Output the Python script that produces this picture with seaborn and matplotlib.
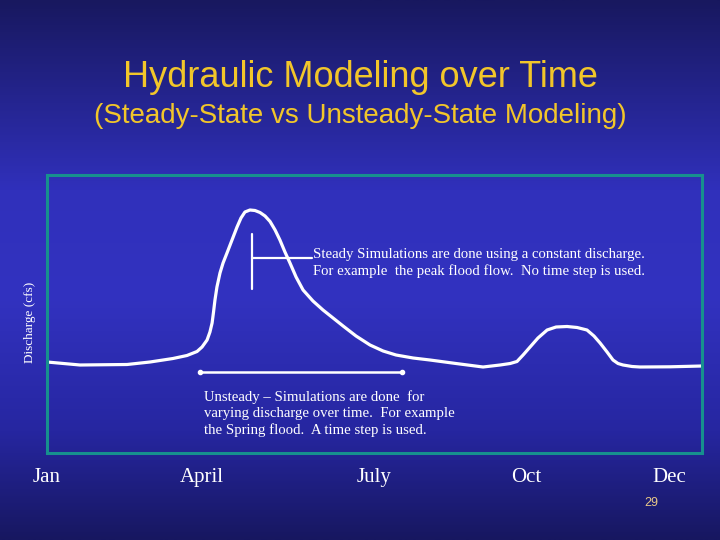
import numpy as np
import pandas as pd
import matplotlib
matplotlib.use("Agg")
import matplotlib.pyplot as plt
import seaborn as sns
from matplotlib.colors import LinearSegmentedColormap

# hydrograph (day of year, discharge in cfs)
day = [0, 18.4, 44.6, 57.4, 70.2, 78.0, 83.6, 86.4, 89.2, 90.8, 92.0, 92.8,
       93.6, 94.7, 96.4, 98.1, 100.3, 103.1, 105.9, 108.1, 110.3, 113.1,
       115.9, 118.7, 121.5, 124.3, 127.1, 129.8, 132.6, 135.4, 138.8, 142.7,
       148.2, 153.8, 159.4, 165.0, 172.2, 180.0, 187.3, 194.5, 204.0, 213.4,
       227.9, 243.0, 252.5, 258.1, 261.9, 265.3, 269.2, 273.6, 278.7, 283.7,
       289.8, 295.4, 300.9, 304.8, 308.2, 312.1, 315.4, 318.2, 321.0, 326.0,
       330.5, 347.2, 365.0]
discharge = [1820, 1760, 1770, 1820, 1890, 1950, 2030, 2120, 2260, 2420, 2600,
             2820, 3060, 3320, 3600, 3800, 4000, 4260, 4520, 4700, 4820, 4860,
             4850, 4810, 4740, 4630, 4460, 4260, 4020, 3800, 3520, 3260, 3040,
             2860, 2700, 2540, 2340, 2160, 2040, 1960, 1900, 1860, 1790, 1720,
             1760, 1790, 1830, 1960, 2120, 2300, 2460, 2520, 2530, 2510, 2460,
             2340, 2200, 2020, 1860, 1790, 1760, 1730, 1720, 1724, 1740]

month_labels = ["Jan", "April", "July", "Oct", "Dec"]
month_days = [0, 86.4, 182.2, 267.0, 346.6]

# steady marker (day, discharge range) and unsteady span
steady_day = 114.4
steady_range = [3290, 4390]
steady_tick = [114.4, 147.5]
steady_level = 3906
unsteady_span = [85.3, 197.8]
unsteady_level = 1626

title = "Hydraulic Modeling over Time"
subtitle = "(Steady-State vs Unsteady-State Modeling)"
steady_text = ("Steady Simulations are done using a constant discharge.\n"
               "For example  the peak flood flow.  No time step is used.")
unsteady_text = ("Unsteady \u2013 Simulations are done  for\n"
                 "varying discharge over time.  For example\n"
                 "the Spring flood.  A time step is used.")

sns.set_style("white")
plt.rcParams["font.family"] = ["Liberation Serif", "DejaVu Serif"]

fig = plt.figure(figsize=(7.2, 5.4), dpi=100)

# slide background gradient
bg = fig.add_axes([0, 0, 1, 1])
bg_cmap = LinearSegmentedColormap.from_list(
    "slide", [(0.0, "#18185f"), (0.35, "#3030bb"), (0.55, "#3232c0"),
              (0.8, "#2626a0"), (1.0, "#171760")])
bg.imshow(np.linspace(0, 1, 256).reshape(-1, 1), aspect="auto", cmap=bg_cmap,
          extent=[0, 1, 0, 1], origin="upper")
bg.set_axis_off()

fig.text(0.5, 1 - 78 / 540, title, ha="center", va="center", color="#f2c62a",
         fontsize=26, family="Liberation Sans")
fig.text(0.5, 1 - 116 / 540, subtitle, ha="center", va="center",
         color="#f2c62a", fontsize=20, family="Liberation Sans")
fig.text(651 / 720, 1 - 503 / 540, "29", ha="center", va="center",
         color="#e8c888", fontsize=9, family="Liberation Sans")

ax = fig.add_axes([47 / 720, 87 / 540, 655 / 720, 278 / 540])
ax.set_facecolor("none")

df = pd.DataFrame({"day": day, "discharge": discharge})
sns.lineplot(data=df, x="day", y="discharge", ax=ax, color="white",
             linewidth=2.3, sort=False, solid_joinstyle="round",
             solid_capstyle="round")

ax.plot([steady_day, steady_day], steady_range, color="white", lw=1.6)
ax.plot(steady_tick, [steady_level, steady_level], color="white", lw=1.6)
ax.plot(unsteady_span, [unsteady_level, unsteady_level], color="white", lw=1.8,
        marker="o", markersize=3, markevery=[0, 1])

ax.text(148.5, 3800, steady_text, color="white", fontsize=10.6, va="center",
        ha="left", linespacing=1.32)
ax.text(87.5, 790, unsteady_text, color="white", fontsize=10.6, va="center",
        ha="left", linespacing=1.32)

ax.set_xlim(0, 365)
ax.set_ylim(0, 5560)
ax.set_xticks(month_days)
ax.set_xticklabels(month_labels, fontsize=15, color="white")
ax.set_yticks([])
ax.tick_params(axis="x", length=0, pad=11)
ax.set_xlabel("")
ax.set_ylabel("Discharge (cfs)", color="white", fontsize=9.5)
ax.yaxis.set_label_coords(-0.017, (453 - 322) / 278)
for s in ax.spines.values():
    s.set_color("#17908e")
    s.set_linewidth(2.2)
    s.set_visible(True)

fig.savefig("out.png", dpi=100)
